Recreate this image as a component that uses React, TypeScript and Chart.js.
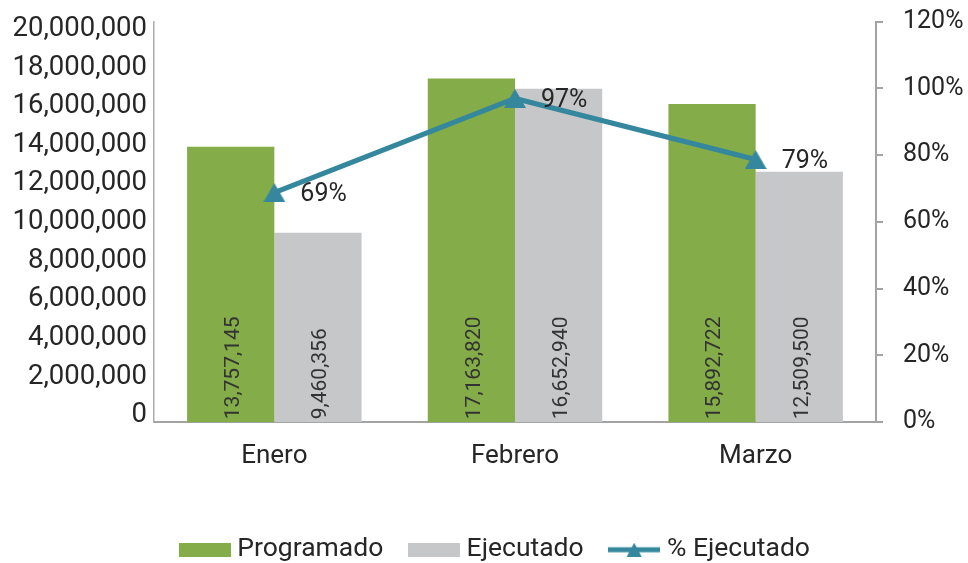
import React, { useEffect, useRef } from "react";
import { Chart, registerables } from "chart.js";

Chart.register(...registerables);

// ---- data ----
const categories = ["Enero", "Febrero", "Marzo"];
const programado = [13757145, 17163820, 15892722];
const ejecutado = [9460356, 16652940, 12509500];
const pctEjecutado = [68.8, 97.0, 78.7];
const leftTicks = [0, 2000000, 4000000, 6000000, 8000000, 10000000, 12000000, 14000000, 16000000, 18000000, 20000000];
const seriesNames = ["Programado", "Ejecutado", "% Ejecutado"];

// ---- styles ----
const GREEN = "#84AC48";
const GRAY = "#C6C7C9";
const TEAL = "#35879E";
const TEXT = "#262626";
const AXIS = "#A3A3A3";
const FONT = "Roboto, 'Noto Sans', sans-serif";

// Excel places the left tick labels on a slightly compressed grid relative to the bars
const LEFT_LABEL_MIN = -347000;
const LEFT_LABEL_MAX = 20378000;
const LEGEND_SHIFT = 13.5;

function makeBox(color: string, w: number, h: number) {
  const c = document.createElement("canvas");
  c.width = w;
  c.height = h;
  const x = c.getContext("2d")!;
  x.fillStyle = color;
  x.fillRect(0, 0, w, h);
  return c;
}

function makeTriangle(color: string, w: number, h: number) {
  const c = document.createElement("canvas");
  c.width = w;
  c.height = h;
  const x = c.getContext("2d")!;
  x.fillStyle = color;
  x.beginPath();
  x.moveTo(w / 2, 0);
  x.lineTo(w, h);
  x.lineTo(0, h);
  x.closePath();
  x.fill();
  return c;
}

function makeLineMarker(color: string, w: number, h: number, lw: number, tw: number) {
  const c = document.createElement("canvas");
  c.width = w;
  c.height = h;
  const x = c.getContext("2d")!;
  x.fillStyle = color;
  x.fillRect(0, h / 2 - lw / 2, w, lw);
  x.beginPath();
  x.moveTo(w / 2, 0);
  x.lineTo(w / 2 + tw / 2, h);
  x.lineTo(w / 2 - tw / 2, h);
  x.closePath();
  x.fill();
  return c;
}

const fmt = (v: number) => Math.round(v).toLocaleString("en-US");

const zeroPad = (s: any) => {
  s.paddingTop = 0;
  s.paddingBottom = 0;
  s.paddingLeft = 0;
  s.paddingRight = 0;
};

const legendShiftPlugin = {
  id: "legendShift",
  afterLayout(chart: any) {
    if (chart.legend) {
      chart.legend.left += LEGEND_SHIFT;
      chart.legend.right += LEGEND_SHIFT;
    }
  },
};

const labelPlugin = {
  id: "valueLabels",
  afterDatasetsDraw(chart: any) {
    const ctx = chart.ctx;
    const area = chart.chartArea;
    // bar labels, rotated, at the base of each bar
    [0, 1].forEach((di) => {
      const meta = chart.getDatasetMeta(di);
      const data = chart.data.datasets[di].data as number[];
      meta.data.forEach((el: any, i: number) => {
        ctx.save();
        ctx.beginPath();
        ctx.rect(area.left, area.top, area.right - area.left, area.bottom - area.top);
        ctx.clip();
        ctx.translate(el.x + 3, area.bottom - 3);
        ctx.rotate(-Math.PI / 2);
        ctx.font = `21px ${FONT}`;
        ctx.fillStyle = "#333333";
        ctx.textAlign = "left";
        ctx.textBaseline = "middle";
        ctx.fillText(fmt(data[i]), 0, 0);
        ctx.restore();
      });
    });
    // line labels, right of each point
    const lmeta = chart.getDatasetMeta(2);
    const ldata = chart.data.datasets[2].data as number[];
    lmeta.data.forEach((pt: any, i: number) => {
      ctx.save();
      ctx.font = `25px ${FONT}`;
      ctx.fillStyle = TEXT;
      ctx.textAlign = "left";
      ctx.textBaseline = "middle";
      ctx.fillText(Math.round(ldata[i]) + "%", pt.x + 26, pt.y + 2.5);
      ctx.restore();
    });
  },
};

export default function App() {
  const ref = useRef<HTMLCanvasElement | null>(null);

  useEffect(() => {
    let chart: Chart | null = null;
    let cancelled = false;

    const build = () => {
      if (cancelled || !ref.current) return;
      const triImg = makeTriangle(TEAL, 22, 19);
      const legendImgs = [
        makeBox(GREEN, 52, 14),
        makeBox(GRAY, 52, 14),
        makeLineMarker(TEAL, 52, 14, 5, 15),
      ];

      chart = new Chart(ref.current, {
        data: {
          labels: categories,
          datasets: [
            {
              type: "bar",
              label: seriesNames[0],
              data: programado,
              backgroundColor: GREEN,
              yAxisID: "y",
              order: 2,
              categoryPercentage: 0.725,
              barPercentage: 1,
            },
            {
              type: "bar",
              label: seriesNames[1],
              data: ejecutado,
              backgroundColor: GRAY,
              yAxisID: "y",
              order: 2,
              categoryPercentage: 0.725,
              barPercentage: 1,
            },
            {
              type: "line",
              label: seriesNames[2],
              data: pctEjecutado,
              borderColor: TEAL,
              backgroundColor: TEAL,
              borderWidth: 5,
              pointStyle: triImg as any,
              pointRadius: 11,
              tension: 0,
              yAxisID: "y1",
              order: 1,
            },
          ],
        } as any,
        options: {
          responsive: false,
          animation: false,
          devicePixelRatio: 1,
          layout: { padding: { left: 0, top: 21.7, right: 0, bottom: 0 } },
          plugins: {
            tooltip: { enabled: false },
            legend: {
              position: "bottom",
              labels: {
                usePointStyle: true,
                pointStyleWidth: 39,
                boxHeight: 26,
                padding: 31,
                color: TEXT,
                font: { family: FONT, size: 26.5 },
                sort: (a: any, b: any) => a.datasetIndex - b.datasetIndex,
                generateLabels: (c: any) => {
                  const items = (Chart.defaults.plugins.legend.labels as any).generateLabels(c);
                  return items.map((it: any) => ({ ...it, pointStyle: legendImgs[it.datasetIndex] }));
                },
              },
            },
          },
          scales: {
            x: {
              grid: { display: false, drawTicks: false },
              border: { display: true, color: AXIS, width: 2 },
              ticks: { padding: 19, color: TEXT, font: { family: FONT, size: 26 } },
              afterFit: (s: any) => {
                s.height = 83.3;
                zeroPad(s);
              },
            },
            y: {
              type: "linear",
              display: false,
              min: 0,
              max: 20000000,
            },
            yl: {
              type: "linear",
              axis: "y",
              position: "left",
              min: LEFT_LABEL_MIN,
              max: LEFT_LABEL_MAX,
              grid: { display: false, drawTicks: false },
              border: { display: true, color: "#ABABAB", width: 1.5 },
              ticks: {
                padding: 7,
                color: TEXT,
                font: { family: FONT, size: 27.5 },
                callback: (v: any) => Number(v).toLocaleString("en-US"),
              },
              afterBuildTicks: (s: any) => {
                s.ticks = leftTicks.map((v) => ({ value: v }));
              },
              afterFit: (s: any) => {
                s.width = 154;
                zeroPad(s);
              },
            },
            y1: {
              type: "linear",
              position: "right",
              min: 0,
              max: 120,
              grid: {
                display: true,
                drawOnChartArea: false,
                drawTicks: true,
                tickLength: 7,
                color: AXIS,
                lineWidth: 2,
              },
              border: { display: true, color: AXIS, width: 2 },
              ticks: {
                stepSize: 20,
                padding: 20,
                color: TEXT,
                font: { family: FONT, size: 25 },
                callback: (v: any) => v + "%",
              },
              afterFit: (s: any) => {
                s.width = 92;
                zeroPad(s);
              },
            },
          },
        } as any,
        plugins: [labelPlugin, legendShiftPlugin],
      });
    };

    const fonts: any = (document as any).fonts;
    if (fonts && fonts.load) {
      Promise.all([fonts.load(`26px Roboto`), fonts.load(`21px Roboto`)])
        .catch(() => null)
        .then(build);
    } else {
      build();
    }

    return () => {
      cancelled = true;
      if (chart) chart.destroy();
    };
  }, []);

  return (
    <div style={{ position: "fixed", left: 0, top: 0, width: 968, height: 573, background: "#fff" }}>
      <canvas ref={ref} width={968} height={573} style={{ display: "block", width: 968, height: 573 }} />
    </div>
  );
}
